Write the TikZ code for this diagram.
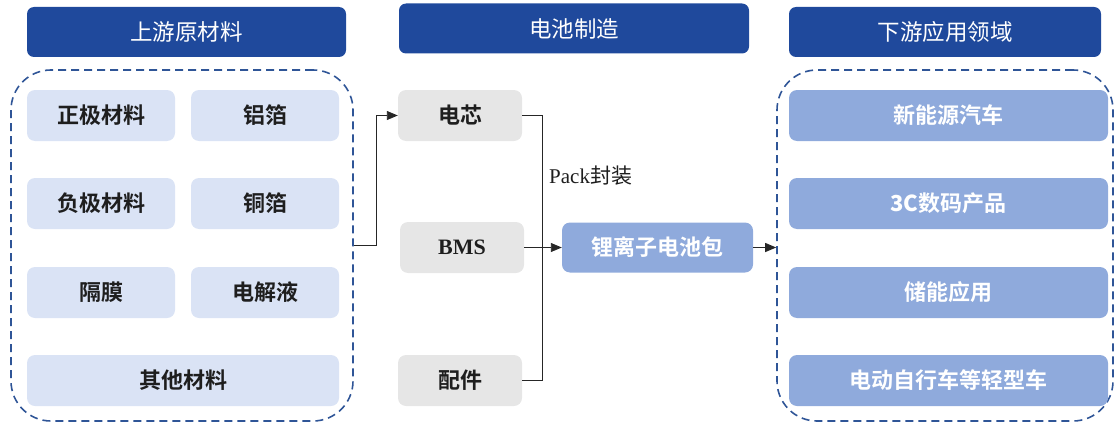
\documentclass[tikz,border=0pt]{standalone}
\usepackage{fontspec}
\setmainfont{Liberation Serif}
\newfontfamily\cjk{Noto Sans CJK SC}
\newfontfamily\cjkb{Noto Sans CJK SC Bold}
\usetikzlibrary{arrows.meta}
\definecolor{hdrblue}{RGB}{31,73,156}
\definecolor{lightbox}{RGB}{218,227,245}
\definecolor{graybox}{RGB}{230,230,230}
\definecolor{midblue}{RGB}{143,170,220}
\definecolor{dashblue}{RGB}{47,85,151}
\definecolor{txt}{RGB}{30,30,30}
\tikzset{
  hdr/.style={fill=hdrblue, rounded corners=7pt, text=white, font=\cjk\fontsize{22.5}{26}\selectfont, minimum height=50pt, inner sep=0pt},
  matbox/.style={fill=lightbox, rounded corners=8pt, text=txt, font=\cjkb\fontsize{22}{26}\selectfont, minimum height=51pt, inner sep=0pt},
  graynode/.style={fill=graybox, rounded corners=8pt, text=txt, font=\cjkb\fontsize{22}{26}\selectfont, minimum width=124pt, minimum height=51pt, inner sep=0pt},
  appbox/.style={fill=midblue, rounded corners=8pt, text=white, font=\cjkb\fontsize{22}{26}\selectfont, minimum width=319pt, minimum height=51pt, inner sep=0pt},
  container/.style={draw=dashblue, line width=1.6pt, dash pattern=on 8pt off 5pt, rounded corners=40pt, inner sep=0pt},
  conn/.style={draw=black!85, line width=0.9pt},
  arr/.style={conn, -{Triangle[length=11pt,width=9pt]}}
}
\begin{document}
\begin{tikzpicture}[x=1pt,y=-1pt]
\useasboundingbox (0,0) rectangle (1115,428);
% headers
\node[hdr, minimum width=319pt] (hup) at (186.5,32) {上游原材料};
\node[hdr, minimum width=350pt] (hmid) at (574,28.5) {电池制造};
\node[hdr, minimum width=312pt] (hdown) at (945,32) {下游应用领域};
% containers
\node[container, minimum width=342pt, minimum height=351pt] (leftC) at (182,245.5) {};
\node[container, minimum width=336pt, minimum height=351pt] (rightC) at (945,245.5) {};
% materials
\node[matbox, minimum width=148pt] (m1) at (101,115.5) {正极材料};
\node[matbox, minimum width=148pt] (m2) at (265,115.5) {铝箔};
\node[matbox, minimum width=148pt] (m3) at (101,203.5) {负极材料};
\node[matbox, minimum width=148pt] (m4) at (265,203.5) {铜箔};
\node[matbox, minimum width=148pt] (m5) at (101,292.5) {隔膜};
\node[matbox, minimum width=148pt] (m6) at (265,292.5) {电解液};
\node[matbox, minimum width=312pt] (m7) at (183,380.5) {其他材料};
% manufacturing
\node[graynode] (cell) at (460,115.5) {电芯};
\node[graynode, font=\bfseries\fontsize{22}{26}\selectfont] (bms) at (462,247.5) {BMS};
\node[graynode] (parts) at (460,380.5) {配件};
\node[fill=midblue, rounded corners=8pt, text=white, font=\cjkb\fontsize{22}{26}\selectfont, minimum width=191pt, minimum height=50pt, inner sep=0pt] (pack) at (657.5,247.5) {锂离子电池包};
\node[font=\fontsize{21}{24}\selectfont, text=txt, anchor=west, inner sep=0pt] (packlbl) at (549,176) {Pack{\cjk 封装}};
% applications
\node[appbox] (a1) at (948.5,115.5) {新能源汽车};
\node[appbox] (a2) at (948.5,203.5) {{\bfseries 3C}数码产品};
\node[appbox] (a3) at (948.5,292.5) {储能应用};
\node[appbox] (a4) at (948.5,380.5) {电动自行车等轻型车};
% connectors
\coordinate (j) at (542,247.5);
\draw[arr] (leftC.east) -- ++(23,0) |- (cell.west);
\draw[conn] (cell.east) -| (j);
\draw[conn] (parts.east) -| (j);
\draw[arr] (bms.east) -- (pack.west);
\draw[arr] (pack.east) -- (pack.east -| rightC.west);
\end{tikzpicture}
\end{document}
